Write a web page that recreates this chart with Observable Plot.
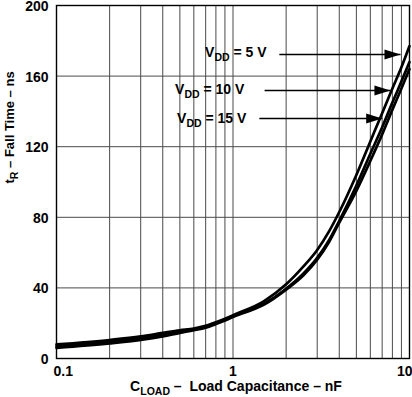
<!DOCTYPE html>
<html><head><meta charset="utf-8">
<script src="https://cdn.jsdelivr.net/npm/d3@7"></script>
<script src="https://cdn.jsdelivr.net/npm/@observablehq/plot@0.6"></script>
<style>html,body{margin:0;padding:0;background:#fff} svg{display:block}</style>
</head><body><div id="chart"></div>
<script>
// Load capacitance (nF)
const capacitance = [0.1,0.2,0.3,0.4,0.5,0.6,0.7,0.8,0.9,1,1.5,2,2.5,3,3.5,4,5,6,7,8,9,10];
// Fall time (ns) per supply voltage
const fall5V  = [8,10.5,12.5,14.5,16,17,18.5,20.5,22.5,24.5,32.5,42,52,61.5,72,83,104,123,139,153,165,177];
const fall10V = [7,9.5,11.5,13.5,15,16.5,18,20,22,24,31,39.5,48,57,67,78,98,116,131,145,157,168];
const fall15V = [6,8.5,10.5,12.5,14.5,16,17.5,19.5,21.5,23.5,30.5,39,47,56,66,77,95,112,127,141,153,164];
const seriesKeys = ["5 V","10 V","15 V"];
const seriesLabels = ["V_{DD} = 5 V","V_{DD} = 10 V","V_{DD} = 15 V"];
// annotation anchors in data units (label end, arrow start/tip, level)
const labelEndC = [1.55,1.16,1.19];
const labelT = [173.4,152.4,136];
const arrowFromC = [1.83,1.51,1.41];
const arrowToC = [8.89,7.8,7.0];
const arrowT = [172.2,151.8,136];
// ticks
const xGrid = [0.1,0.2,0.3,0.4,0.5,0.6,0.7,0.8,0.9,1,2,3,4,5,6,7,8,9,10];
const xTickLabels = [0.1,1,10];
const yTicks = [0,40,80,120,160,200];
const xTitle = "C_{LOAD} –  Load Capacitance – nF";
const yTitle = "t_{R} – Fall Time – ns";

const seriesValues = [fall5V, fall10V, fall15V];
const rows = seriesKeys.flatMap((k,j) => capacitance.map((c,i) => ({c, t: seriesValues[j][i], s: k})));
const notes = seriesKeys.map((k,i) => ({
  label: seriesLabels[i], lc: labelEndC[i], lt: labelT[i],
  c1: arrowFromC[i], c2: arrowToC[i], t: arrowT[i]
}));

const headSymbol = {
  draw(context) {
    context.moveTo(0, 0);
    context.lineTo(-16, -5);
    context.lineTo(-16, 5);
    context.closePath();
  }
};

const font = "'Liberation Sans', Arial, sans-serif";
const svg = Plot.plot({
  width: 412, height: 397,
  marginLeft: 56, marginRight: 3, marginTop: 5, marginBottom: 39,
  x: {type: "log", domain: [0.1, 10], axis: null},
  y: {domain: [0, 200], axis: null},
  style: {fontFamily: font, background: "white", color: "black"},
  marks: [
    Plot.ruleX(xGrid, {x: d => d, stroke: "#4a4a4a", strokeWidth: 1}),
    Plot.ruleY(yTicks, {y: d => d, stroke: "#4a4a4a", strokeWidth: 1}),
    Plot.frame({stroke: "black", strokeWidth: 1.4}),
    Plot.line(rows, {x: "c", y: "t", z: "s", stroke: "black", strokeWidth: 2.7, curve: "monotone-x"}),
    Plot.link(notes, {x1: "c1", x2: "c2", y1: "t", y2: "t", stroke: "black", strokeWidth: 1.5}),
    Plot.dot(notes, {x: "c2", y: "t", symbol: headSymbol, fill: "black", stroke: null, r: 5}),
    Plot.text(notes, {x: "lc", y: "lt", text: "label", textAnchor: "end", fontSize: 14, fontWeight: "bold", fill: "black"}),
    Plot.text(yTicks, {y: d => d, text: d => String(d), frameAnchor: "left", textAnchor: "end", dx: -8, dy: 1, fontSize: 14, fontWeight: "bold", fill: "black"}),
    Plot.text(xTickLabels.slice(0,1), {x: d => d, text: d => String(d), frameAnchor: "bottom", textAnchor: "start", dx: -3, dy: 17, fontSize: 14, fontWeight: "bold", fill: "black"}),
    Plot.text(xTickLabels.slice(1,-1), {x: d => d, text: d => String(d), frameAnchor: "bottom", textAnchor: "middle", dy: 17, fontSize: 14, fontWeight: "bold", fill: "black"}),
    Plot.text(xTickLabels.slice(-1), {x: d => d, text: d => String(d), frameAnchor: "bottom", textAnchor: "end", dx: 3, dy: 17, fontSize: 14, fontWeight: "bold", fill: "black"}),
    Plot.text([xTitle], {text: d => d, frameAnchor: "bottom", dx: 3, dy: 32, fontSize: 14, fontWeight: "bold", fill: "black"}),
    Plot.text([yTitle], {text: d => d, frameAnchor: "left", rotate: -90, dx: -47, dy: 1.5, fontSize: 13, fontWeight: "bold", fill: "black"})
  ]
});

// render subscripts marked as _{...}
svg.querySelectorAll("text").forEach(t => {
  const s = t.textContent;
  if (!s.includes("_{")) return;
  const parts = s.split(/_\{([^}]*)\}/);
  t.textContent = "";
  let shifted = false;
  parts.forEach((p, i) => {
    if (!p) return;
    const ts = document.createElementNS("http://www.w3.org/2000/svg", "tspan");
    ts.textContent = p;
    if (i % 2) { ts.setAttribute("font-size", "10.5"); ts.setAttribute("dy", "4"); shifted = true; }
    else if (shifted) { ts.setAttribute("dy", "-4"); shifted = false; }
    t.appendChild(ts);
  });
});

document.getElementById("chart").appendChild(svg);
</script>
</body></html>
